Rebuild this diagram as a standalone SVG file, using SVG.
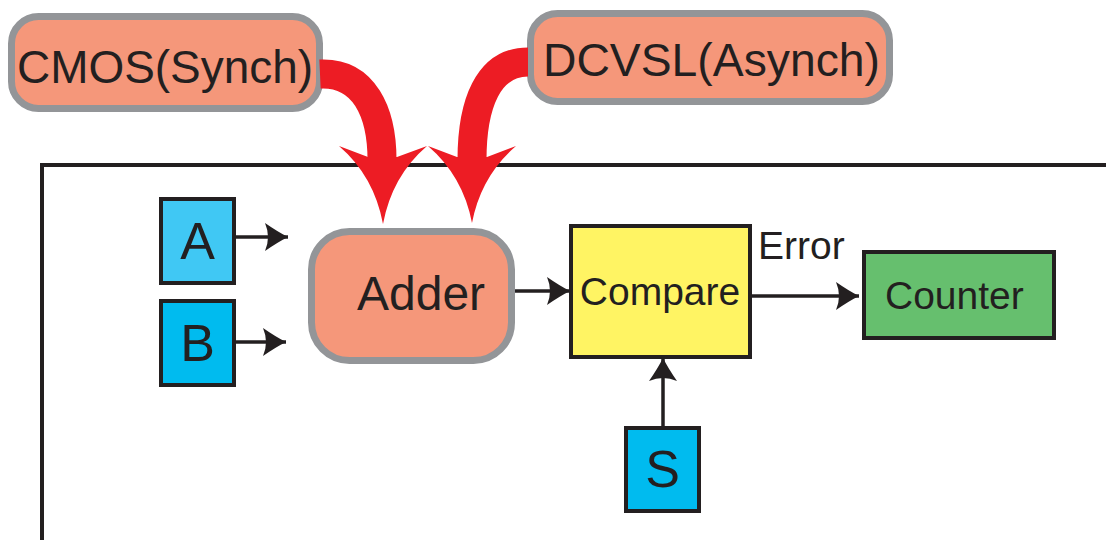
<svg xmlns="http://www.w3.org/2000/svg" width="1106" height="540" viewBox="0 0 1106 540">
  <style>
    .lbl { font-family: "Liberation Sans", Arial, sans-serif; fill: #231F20; }
    .tech { fill: #F5977A; stroke: #939598; stroke-width: 7; }
    .blk { stroke: #231F20; stroke-width: 4; }
    .wire { fill: none; stroke: #231F20; stroke-width: 3.5; marker-end: url(#tipArrow); }
    .band { fill: none; stroke: #ED1C24; stroke-width: 29; }
    .head { fill: #ED1C24; }
  </style>
  <defs>
    <marker id="tipArrow" markerUnits="userSpaceOnUse" markerWidth="32" markerHeight="32" refX="27" refY="16" orient="auto">
      <path d="M27,16 Q17,11 4,2 Q10,16 4,30 Q17,21 27,16 Z" fill="#231F20"/>
    </marker>
  </defs>

  <rect width="1106" height="540" fill="#FFFFFF"/>

  <!-- system boundary -->
  <path id="frame" d="M42,540 V165 H1106" fill="none" stroke="#231F20" stroke-width="4"/>

  <g id="cmos">
    <rect class="tech" x="11.5" y="16.5" width="308" height="92" rx="27"/>
    <text class="lbl" x="17" y="83" font-size="47" textLength="296" lengthAdjust="spacingAndGlyphs">CMOS(Synch)</text>
  </g>

  <g id="dcvsl">
    <rect class="tech" x="530.5" y="13.5" width="359" height="88" rx="27"/>
    <text class="lbl" x="543" y="76" font-size="47" textLength="337" lengthAdjust="spacingAndGlyphs">DCVSL(Asynch)</text>
  </g>

  <g id="adder">
    <rect class="tech" x="311.5" y="231.5" width="200" height="129" rx="38"/>
    <text class="lbl" x="357" y="310" font-size="48">Adder</text>
  </g>

  <g id="inA">
    <rect class="blk" x="161" y="199" width="73" height="84" fill="#40C8F4"/>
    <text class="lbl" x="197.5" y="259" font-size="52" text-anchor="middle">A</text>
  </g>

  <g id="inB">
    <rect class="blk" x="161" y="301" width="73" height="84" fill="#00BBEF"/>
    <text class="lbl" x="197.5" y="361" font-size="52" text-anchor="middle">B</text>
  </g>

  <g id="compare">
    <rect class="blk" x="571" y="226" width="179" height="131" fill="#FFF463"/>
    <text class="lbl" x="660" y="305" font-size="39" text-anchor="middle">Compare</text>
  </g>

  <g id="counter">
    <rect class="blk" x="864" y="252" width="190" height="86" fill="#66BF6E"/>
    <text class="lbl" x="885" y="309" font-size="39">Counter</text>
  </g>

  <g id="inS">
    <rect class="blk" x="626" y="428" width="73" height="83" fill="#00BBEF"/>
    <text class="lbl" x="662.5" y="487" font-size="52" text-anchor="middle">S</text>
  </g>

  <g id="connectors">
    <path class="wire" d="M236,237 H288"/>
    <path class="wire" d="M236,342 H286"/>
    <path class="wire" d="M515,291 H570"/>
    <path class="wire" d="M752,296 H859"/>
    <path class="wire" d="M663,426 V358"/>
    <text class="lbl" x="758" y="259" font-size="39">Error</text>

    <!-- implementation styles feeding the adder -->
    <path class="band" d="M320,74 C364,72 382,112 382,160"/>
    <path class="head" d="M339,146 Q374,176 383,224 Q392,176 427,146 L397,157 L368,157 Z"/>
    <path class="band" d="M528,62 C488,62 472,104 472,160"/>
    <path class="head" d="M428,146 Q463,176 472,223 Q481,176 516,146 L487,157 L457,157 Z"/>
  </g>
</svg>
